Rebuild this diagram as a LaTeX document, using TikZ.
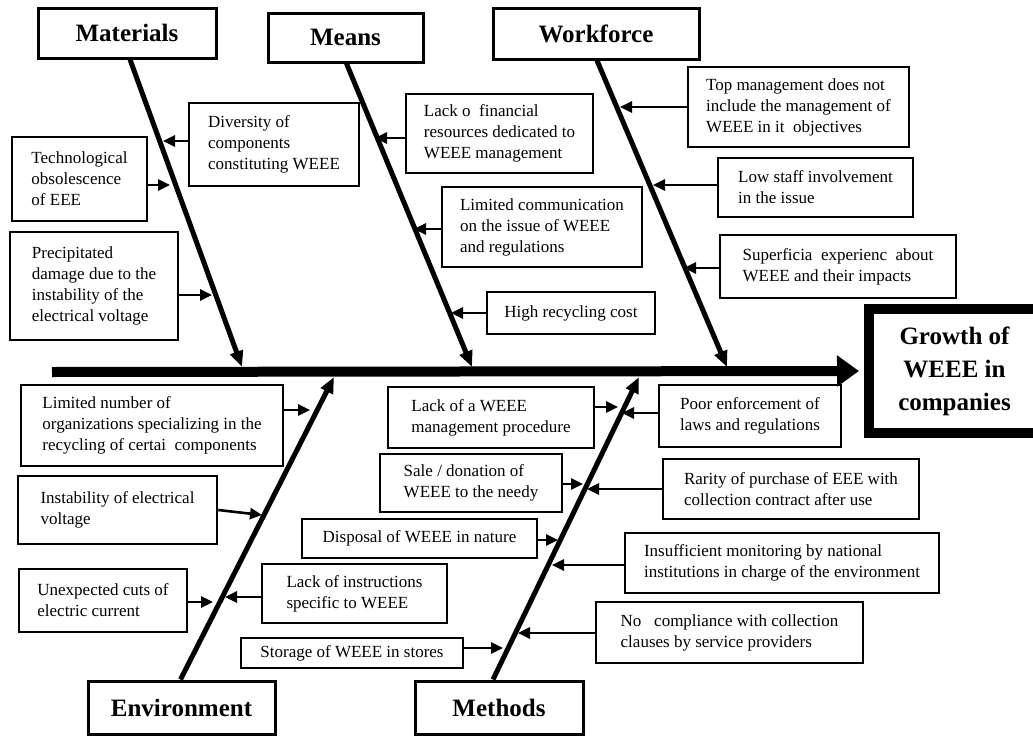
\documentclass[tikz,border=0pt]{standalone}
\usepackage{fontspec}
\setmainfont{Liberation Serif}
\usetikzlibrary{arrows.meta}
\newcommand\causebox[6]{%
  \pgfmathsetmacro\cbX{(#2+#4)/2}\pgfmathsetmacro\cbY{(#3+#5)/2}%
  \pgfmathsetmacro\cbW{#4-#2}\pgfmathsetmacro\cbH{#5-#3}%
  \node[cause, minimum width=\cbW pt, minimum height=\cbH pt] (#1) at (\cbX,\cbY) {#6};}
\begin{document}
\begin{tikzpicture}[x=1pt,y=-1pt,
  title/.style={draw, line width=3pt, font=\fontsize{25}{30}\selectfont\bfseries, inner sep=2pt},
  cause/.style={draw, line width=2.6pt, align=left, font=\fontsize{17}{21}\selectfont, inner sep=3pt},
  growth/.style={draw, line width=10pt, align=center, font=\fontsize{25}{33}\selectfont\bfseries, inner sep=2pt},
  bone/.style={line width=5pt, -{Triangle[length=16pt,width=13pt]}},
  carrow/.style={line width=2.6pt, -{Triangle[length=12pt,width=11pt]}},
  spine/.style={line width=10pt, -{Triangle[length=22pt,width=30pt]}}]
\useasboundingbox (0,0) rectangle (1033,736);
\fill[white] (0,0) rectangle (1033,736);

% category boxes
\node[title, minimum width=178pt, minimum height=50pt] (mat) at (127,33) {Materials};
\node[title, minimum width=155pt, minimum height=49pt] (mea) at (345.5,37.5) {Means};
\node[title, minimum width=206pt, minimum height=51pt] (wf) at (596,33.5) {Workforce};
\node[title, minimum width=187pt, minimum height=53pt] (env) at (181.5,707.5) {Environment};
\node[title, minimum width=168pt, minimum height=53pt] (met) at (499,707.5) {Methods};

% effect
\node[growth, minimum width=171pt, minimum height=124pt] (g) at (954.5,371) {Growth of\\WEEE in\\companies};

% spine
\coordinate (sp) at (52,372);
\draw[spine] (sp) -- ([xshift=-5pt]g.west);

% bones
\coordinate (matT) at (242,367);
\coordinate (meaT) at (472,367);
\coordinate (wfT) at (727,367);
\coordinate (envT) at (334,377);
\coordinate (metT) at (639,377);
\draw[bone] ([xshift=3pt]mat.south) -- (matT);
\draw[bone] ([xshift=1pt]mea.south) -- (meaT);
\draw[bone] ([xshift=1pt]wf.south) -- (wfT);
\draw[bone] ([xshift=-1pt]env.north) -- (envT);
\draw[bone] ([xshift=-6pt]met.north) -- (metT);

% Materials causes
\causebox{d1}{189}{103}{359}{186}{Diversity of\\components\\constituting WEEE}
\causebox{d2}{12}{137}{147}{221}{Technological\\obsolescence\\of EEE}
\causebox{d3}{10}{232}{178}{340}{Precipitated\\damage due to the\\instability of the\\electrical voltage}
\coordinate (td1) at (163,141);
\coordinate (td2) at (170,185);
\coordinate (td3) at (212,295);
\draw[carrow] (d1.west |- td1) -- (td1);
\draw[carrow] (d2.east |- td2) -- (td2);
\draw[carrow] (d3.east |- td3) -- (td3);

% Means causes
\causebox{m1}{406}{94}{593}{173}{Lack o\ \ financial\\resources dedicated to\\WEEE management}
\causebox{m2}{442}{187}{642}{267}{Limited communication\\on the issue of WEEE\\and regulations}
\causebox{m3}{487}{292}{655}{334}{High recycling cost}
\coordinate (tm1) at (375,138);
\coordinate (tm2) at (414,229);
\coordinate (tm3) at (451,313);
\draw[carrow] (m1.west |- tm1) -- (tm1);
\draw[carrow] (m2.west |- tm2) -- (tm2);
\draw[carrow] (m3.west |- tm3) -- (tm3);

% Workforce causes
\causebox{w1}{688}{67}{909}{147}{Top management does not\\include the management of\\WEEE in it\ \ objectives}
\causebox{w2}{718}{158}{913}{217}{Low staff involvement\\in the issue}
\causebox{w3}{720}{235}{956}{298}{Superficia\ \ experienc\ \ about\\WEEE and their impacts}
\coordinate (tw1) at (620,107);
\coordinate (tw2) at (653,185);
\coordinate (tw3) at (684,268);
\draw[carrow] (w1.west |- tw1) -- (tw1);
\draw[carrow] (w2.west |- tw2) -- (tw2);
\draw[carrow] (w3.west |- tw3) -- (tw3);

% Environment causes
\causebox{e1}{21}{385}{283}{466}{Limited number of\\organizations specializing in the\\recycling of certai\ \ components}
\causebox{e2}{18}{476}{217}{544}{Instability of electrical\\voltage}
\causebox{e3}{19}{569}{187}{632}{Unexpected cuts of\\electric current}
\causebox{e4}{262}{564}{447}{623}{Lack of instructions\\specific to WEEE}
\coordinate (te1) at (310,410);
\coordinate (te2) at (262,515);
\coordinate (te3) at (213,602);
\coordinate (te4) at (225,597);
\coordinate (se2) at (217,510);
\draw[carrow] (e1.east |- te1) -- (te1);
\draw[carrow] (e2.east |- se2) -- (te2);
\draw[carrow] (e3.east |- te3) -- (te3);
\draw[carrow] (e4.west |- te4) -- (te4);

% Methods causes
\causebox{t1}{388}{387}{594}{448}{Lack of a WEEE\\management procedure}
\causebox{t2}{659}{385}{841}{447}{Poor enforcement of\\laws and regulations}
\causebox{t3}{380}{454}{562}{512}{Sale / donation of\\WEEE to the needy}
\causebox{t4}{663}{459}{919}{519}{Rarity of purchase of EEE with\\collection contract after use}
\causebox{t5}{302}{519}{537}{558}{Disposal of WEEE in nature}
\causebox{t6}{625}{533}{939}{593}{Insufficient monitoring by national\\institutions in charge of the environment}
\causebox{t7}{596}{602}{863}{663}{No\ \ \ compliance with collection\\clauses by service providers}
\causebox{t8}{241}{638}{463}{668}{Storage of WEEE in stores}
\coordinate (tt1) at (618,407);
\coordinate (tt2) at (622,413);
\coordinate (tt3) at (583,484);
\coordinate (tt4) at (587,489);
\coordinate (tt5) at (558,540);
\coordinate (tt6) at (552,565);
\coordinate (tt7) at (518,633);
\coordinate (tt8) at (503,648);
\draw[carrow] (t1.east |- tt1) -- (tt1);
\draw[carrow] (t2.west |- tt2) -- (tt2);
\draw[carrow] (t3.east |- tt3) -- (tt3);
\draw[carrow] (t4.west |- tt4) -- (tt4);
\draw[carrow] (t5.east |- tt5) -- (tt5);
\draw[carrow] (t6.west |- tt6) -- (tt6);
\draw[carrow] (t7.west |- tt7) -- (tt7);
\draw[carrow] (t8.east |- tt8) -- (tt8);
\end{tikzpicture}
\end{document}
